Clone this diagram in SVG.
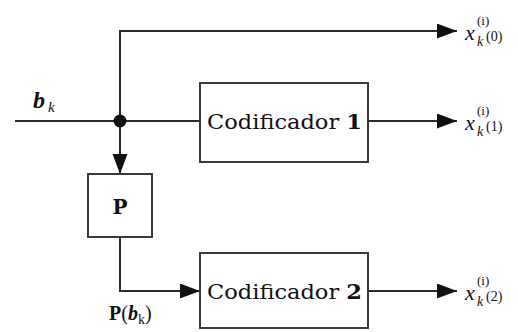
<svg xmlns="http://www.w3.org/2000/svg" width="518" height="332" viewBox="0 0 518 332">
<style>
.ln{fill:none;stroke:#2a2a2a;stroke-width:2}
.box{fill:#fff;stroke:#3a3a3a;stroke-width:2}
text{font-family:"DejaVu Serif","Liberation Serif",serif;fill:#111}
.ls{font-family:"Liberation Serif","DejaVu Serif",serif}
.it{font-style:italic}
.bd{font-weight:bold}
</style>
<defs>
<marker id="ah" markerUnits="userSpaceOnUse" markerWidth="20" markerHeight="16" refX="20" refY="7.5" orient="auto">
<path d="M0,0 L20,7.5 L0,15 z" fill="#111"/>
</marker>
</defs>
<g id="connectors">
<path class="ln" d="M15,121 H200"/>
<path class="ln" d="M120,121 V31 H457" marker-end="url(#ah)"/>
<path class="ln" d="M120,121 V174" marker-end="url(#ah)"/>
<path class="ln" d="M120,237 V291 H200" marker-end="url(#ah)"/>
<path class="ln" d="M368,121 H457" marker-end="url(#ah)"/>
<path class="ln" d="M368,291 H457" marker-end="url(#ah)"/>
<circle cx="120" cy="121" r="6.5" fill="#111"/>
</g>
<g id="input-label">
<text x="33" y="108" font-size="24" class="ls it bd">b</text>
<text x="48" y="112" font-size="15" class="ls it">k</text>
</g>
<g id="codificador1">
<rect class="box" x="200" y="83" width="168" height="79"/>
<text x="207" y="129" font-size="21" textLength="155" lengthAdjust="spacingAndGlyphs">Codificador <tspan class="bd">1</tspan></text>
</g>
<g id="P">
<rect class="box" x="88" y="174" width="64" height="63"/>
<text x="120" y="214" font-size="20" class="bd" text-anchor="middle">P</text>
</g>
<g id="codificador2">
<rect class="box" x="200" y="253" width="168" height="75"/>
<text x="207" y="299" font-size="21" textLength="155" lengthAdjust="spacingAndGlyphs">Codificador <tspan class="bd">2</tspan></text>
</g>
<g id="P-label">
<text x="109" y="320" font-size="20" class="ls"><tspan class="bd">P</tspan>(<tspan class="it bd">b</tspan><tspan font-size="14" dy="4">k</tspan><tspan dy="-4">)</tspan></text>
</g>
<g id="out0" class="ls">
<text x="465" y="40" font-size="22" class="ls it">x</text>
<text x="477" y="25" font-size="13" class="ls">(i)</text>
<text x="477" y="46" font-size="14" class="ls it">k</text>
<text x="486" y="41" font-size="14" class="ls">(0)</text>
</g>
<g id="out1">
<text x="465" y="130" font-size="22" class="ls it">x</text>
<text x="477" y="115" font-size="13" class="ls">(i)</text>
<text x="477" y="136" font-size="14" class="ls it">k</text>
<text x="486" y="131" font-size="14" class="ls">(1)</text>
</g>
<g id="out2">
<text x="465" y="300" font-size="22" class="ls it">x</text>
<text x="477" y="285" font-size="13" class="ls">(i)</text>
<text x="477" y="306" font-size="14" class="ls it">k</text>
<text x="486" y="301" font-size="14" class="ls">(2)</text>
</g>
</svg>
